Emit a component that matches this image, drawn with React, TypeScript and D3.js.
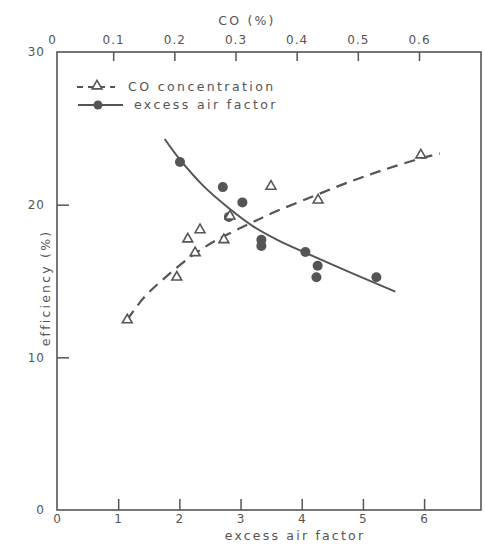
import * as d3 from "d3";
import React, { useEffect, useRef } from "react";

// measured points, excess air factor (bottom axis)
const airFactor = [2.01, 2.71, 3.03, 2.81, 3.34, 3.34, 4.06, 4.26, 4.24, 5.22];
const airEfficiency = [22.8, 21.15, 20.15, 19.2, 17.7, 17.3, 16.9, 16.0, 15.25, 15.25];

// measured points, CO concentration (top axis)
const coPercent = [0.123, 0.204, 0.234, 0.222, 0.242, 0.281, 0.291, 0.358, 0.435, 0.603];
const coEfficiency = [12.45, 15.25, 16.85, 17.75, 18.35, 17.7, 19.25, 21.2, 20.3, 23.25];

// hand drawn trend curves
const airFitX = [1.76, 2.0, 2.4, 2.8, 3.2, 3.6, 4.06, 4.8, 5.53];
const airFitY = [24.3, 23.0, 21.2, 19.8, 18.6, 17.7, 16.85, 15.55, 14.3];
const coFitX = [0.123, 0.15, 0.19, 0.234, 0.27, 0.32, 0.36, 0.43, 0.49, 0.54, 0.6, 0.634];
const coFitY = [12.45, 13.9, 15.4, 16.8, 17.7, 18.7, 19.45, 20.6, 21.55, 22.25, 23.0, 23.35];

// ticks
const airTicks = [0, 1, 2, 3, 4, 5, 6];
const coTicks = [0, 0.1, 0.2, 0.3, 0.4, 0.5, 0.6];
const effTicks = [0, 10, 20, 30];

const legendLabels = ["CO concentration", "excess air factor"];

const INK = "#555";
const FONT = "'DejaVu Sans', sans-serif";

const App = () => {
  const chartRef = useRef<SVGSVGElement | null>(null);

  useEffect(() => {
    if (chartRef.current) drawChart();
    return () => {
      d3.select(chartRef.current).selectAll("*").remove();
    };
  }, []);

  const drawChart = () => {
    const svg = d3.select(chartRef.current);
    const left = 57, right = 481, top = 52, bottom = 510;

    const x = d3.scaleLinear().domain([0, 6.93]).range([left, right]);
    const co = d3.scaleLinear().domain([0, 0.6]).range([52, 419]);
    const y = d3.scaleLinear().domain([0, 30]).range([bottom, top]);

    svg.append("rect").attr("width", 485).attr("height", 545).attr("fill", "#fff");

    // frame
    svg
      .append("rect")
      .attr("x", left)
      .attr("y", top)
      .attr("width", right - left)
      .attr("height", bottom - top)
      .attr("fill", "none")
      .attr("stroke", INK)
      .attr("stroke-width", 1.6);

    const styleAxis = (g: any) => {
      g.select(".domain").remove();
      g.selectAll("line").attr("stroke", INK).attr("stroke-width", 1.5);
      g.selectAll("text")
        .attr("fill", INK)
        .attr("font-family", FONT)
        .attr("font-size", 12)
        .attr("letter-spacing", 1);
    };

    // bottom axis
    const gx = svg
      .append("g")
      .attr("transform", `translate(0,${bottom})`)
      .call(
        d3.axisBottom(x).tickValues(airTicks).tickFormat(d3.format("d")).tickSizeInner(-11).tickSizeOuter(0).tickPadding(4)
      );
    styleAxis(gx);
    gx.selectAll(".tick").filter((d: any) => d === 0).select("line").remove();

    // top axis
    const gt = svg
      .append("g")
      .attr("transform", `translate(0,${top})`)
      .call(
        d3.axisTop(co).tickValues(coTicks).tickFormat((d: any) => (d === 0 ? "0" : d3.format(".1f")(d))).tickSizeInner(-9).tickSizeOuter(0).tickPadding(8)
      );
    styleAxis(gt);
    gt.selectAll(".tick").filter((d: any) => d === 0).select("line").remove();

    // left axis
    const gy = svg
      .append("g")
      .attr("transform", `translate(${left},0)`)
      .call(d3.axisLeft(y).tickValues(effTicks).tickSizeInner(-12).tickSizeOuter(0).tickPadding(12));
    styleAxis(gy);
    gy.selectAll(".tick").filter((d: any) => d === 0 || d === 30).select("line").remove();

    // axis titles
    const title = (sel: any) =>
      sel.attr("fill", INK).attr("font-family", FONT).attr("font-size", 12.5).attr("letter-spacing", 2.2).attr("text-anchor", "middle");
    svg.append("text").attr("x", 295).attr("y", 540).text("excess air factor").call(title);
    svg.append("text").attr("x", 247).attr("y", 25).text("CO (%)").call(title);
    svg
      .append("text")
      .attr("transform", `translate(50,${288}) rotate(-90)`)
      .text("efficiency (%)")
      .call(title);

    // trend curves
    const airLine = d3
      .line<number>()
      .x((d, i) => x(airFitX[i]))
      .y((d) => y(d))
      .curve(d3.curveCatmullRom);
    svg
      .append("path")
      .attr("d", airLine(airFitY))
      .attr("fill", "none")
      .attr("stroke", INK)
      .attr("stroke-width", 2);

    const coLine = d3
      .line<number>()
      .x((d, i) => co(coFitX[i]))
      .y((d) => y(d))
      .curve(d3.curveCatmullRom);
    svg
      .append("path")
      .attr("d", coLine(coFitY))
      .attr("fill", "none")
      .attr("stroke", INK)
      .attr("stroke-width", 2.2)
      .attr("stroke-dasharray", "11,7");

    // points
    svg
      .selectAll(".air")
      .data(airEfficiency)
      .enter()
      .append("circle")
      .attr("class", "air")
      .attr("cx", (d, i) => x(airFactor[i]))
      .attr("cy", (d) => y(d))
      .attr("r", 5)
      .attr("fill", INK);

    const tri = d3.symbol().type(d3.symbolTriangle).size(42);
    svg
      .selectAll(".co")
      .data(coEfficiency)
      .enter()
      .append("path")
      .attr("class", "co")
      .attr("d", tri)
      .attr("transform", (d, i) => `translate(${co(coPercent[i])},${y(d)})`)
      .attr("fill", "#fff")
      .attr("stroke", INK)
      .attr("stroke-width", 1.6);

    // legend
    const lg = svg.append("g");
    lg.append("line").attr("x1", 77).attr("x2", 115).attr("y1", 87).attr("y2", 87)
      .attr("stroke", INK).attr("stroke-width", 1.8).attr("stroke-dasharray", "6,5");
    lg.append("path").attr("d", tri).attr("transform", "translate(97,86)")
      .attr("fill", "#fff").attr("stroke", INK).attr("stroke-width", 1.6);
    lg.append("line").attr("x1", 78).attr("x2", 123).attr("y1", 105).attr("y2", 105)
      .attr("stroke", INK).attr("stroke-width", 1.8);
    lg.append("circle").attr("cx", 98).attr("cy", 105).attr("r", 4.5).attr("fill", INK);
    lg.selectAll(".lt")
      .data(legendLabels)
      .enter()
      .append("text")
      .attr("x", (d, i) => (i === 0 ? 128 : 134))
      .attr("y", (d, i) => 91 + i * 18)
      .text((d) => d)
      .attr("fill", INK)
      .attr("font-family", FONT)
      .attr("font-size", 12.5)
      .attr("letter-spacing", 2.4);
  };

  return <svg ref={chartRef} width={485} height={545} style={{ position: "absolute", left: 0, top: 0 }} />;
};

export default App;
